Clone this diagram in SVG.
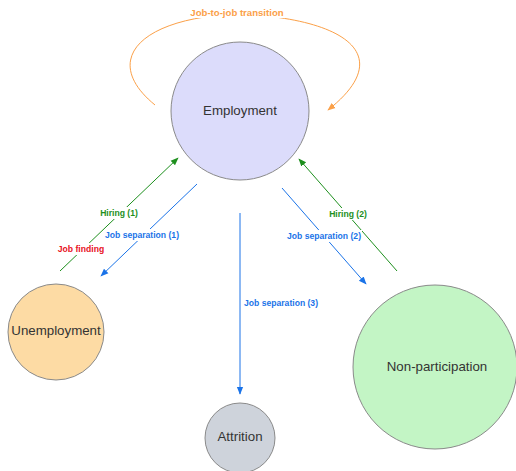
<svg xmlns="http://www.w3.org/2000/svg" width="516" height="471" viewBox="0 0 516 471">
<style>
.node{stroke:#8a8a8a;stroke-width:1}
.nt{font-family:"Liberation Sans",Arial,sans-serif;font-size:13.3px;fill:#333;text-anchor:middle}
.el{font-family:"Liberation Sans",Arial,sans-serif;font-size:8.6px;font-weight:bold;text-anchor:middle}
.bg{fill:#fff}
.g{stroke:#1d8f1d;stroke-width:1;fill:none}
.b{stroke:#1a73e8;stroke-width:1;fill:none}
.o{stroke:#fba048;stroke-width:1;fill:none}
</style>
<defs>
<marker id="ag" viewBox="0 0 10 10" refX="9" refY="5" markerWidth="8" markerHeight="8" orient="auto" markerUnits="userSpaceOnUse"><path d="M0,1 L10,5 L0,9 Z" fill="#1d8f1d"/></marker>
<marker id="ab" viewBox="0 0 10 10" refX="9" refY="5" markerWidth="8" markerHeight="8" orient="auto" markerUnits="userSpaceOnUse"><path d="M0,1 L10,5 L0,9 Z" fill="#1a73e8"/></marker>
<marker id="ao" viewBox="0 0 10 10" refX="9" refY="5" markerWidth="8" markerHeight="8" orient="auto" markerUnits="userSpaceOnUse"><path d="M0,1 L10,5 L0,9 Z" fill="#fba048"/></marker>
</defs>
<g id="connectors">
<path class="o" d="M155,105 C100,60 140,18 237,14 C345,18 398,55 328,110" marker-end="url(#ao)"/>
<rect class="bg" x="190" y="6" width="95" height="12"/>
<text class="el" x="237" y="15.5" fill="#fba048" style="font-size:9.6px">Job-to-job transition</text>
<line class="g" x1="60" y1="271" x2="178" y2="158" marker-end="url(#ag)"/>
<line class="b" x1="197" y1="184" x2="101" y2="276" marker-end="url(#ab)"/>
<line class="g" x1="397" y1="271" x2="299" y2="159" marker-end="url(#ag)"/>
<line class="b" x1="282" y1="188" x2="366" y2="284" marker-end="url(#ab)"/>
<line class="b" x1="240" y1="213" x2="240" y2="394" marker-end="url(#ab)"/>
<rect class="bg" x="100" y="207" width="40" height="12"/>
<text class="el" x="119" y="216" fill="#1d8f1d">Hiring (1)</text>
<rect class="bg" x="57" y="243" width="48" height="12"/>
<text class="el" x="81" y="252" fill="#e8101e">Job finding</text>
<rect class="bg" x="105" y="229" width="74" height="12"/>
<text class="el" x="142" y="238" fill="#1a73e8">Job separation (1)</text>
<rect class="bg" x="329" y="208" width="40" height="12"/>
<text class="el" x="348" y="217" fill="#1d8f1d">Hiring (2)</text>
<rect class="bg" x="287" y="230" width="75" height="12"/>
<text class="el" x="324" y="239" fill="#1a73e8">Job separation (2)</text>
<text class="el" x="244" y="306" fill="#1a73e8" style="text-anchor:start">Job separation (3)</text>
</g>
<g id="employment">
<circle class="node" cx="240" cy="111" r="69" fill="#dcdcfb"/>
<text class="nt" x="240" y="115">Employment</text>
</g>
<g id="unemployment">
<circle class="node" cx="56" cy="332" r="48" fill="#fddba4"/>
<text class="nt" x="56" y="335">Unemployment</text>
</g>
<g id="attrition">
<circle class="node" cx="240" cy="438" r="35" fill="#ced3db"/>
<text class="nt" x="240" y="441">Attrition</text>
</g>
<g id="non-participation">
<circle class="node" cx="435" cy="367" r="82" fill="#c3f5c5"/>
<text class="nt" x="437" y="371">Non-participation</text>
</g>
</svg>
